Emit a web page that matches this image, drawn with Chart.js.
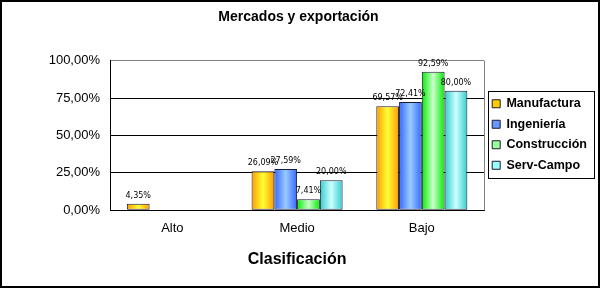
<!DOCTYPE html>
<html>
<head>
<meta charset="utf-8">
<script src="https://cdn.jsdelivr.net/npm/chart.js@4/dist/chart.umd.min.js"></script>
<style>
  html, body { margin: 0; padding: 0; background: #fff; }
  #wrap { width: 600px; height: 288px; }
</style>
</head>
<body>
<div id="wrap"><canvas id="chart" width="600" height="288"></canvas></div>
<script>
// Data
const categories = ["Alto", "Medio", "Bajo"];
const seriesNames = ["Manufactura", "Ingeniería", "Construcción", "Serv-Campo"];
const manufactura = [4.35, 26.09, 69.57];
const ingenieria = [0, 27.59, 72.41];
const construccion = [0, 7.41, 92.59];
const servCampo = [0, 20.00, 80.00];
const yTicks = [0, 25, 50, 75, 100];

// Colours: edge, centre (bars are shaded like cylinders)
const edgeColors = ["#ff9900", "#3366ff", "#00ee00", "#33cccc"];
const centerColors = ["#ffff33", "#99ccff", "#ccffcc", "#ccffff"];
const legendColors = ["#ffcc00", "#6699ff", "#99ff99", "#99ffff"];

const CAT_PCT = 0.73;

function fmt(v) {
    return v.toFixed(2).replace(".", ",") + "%";
}

// Horizontal gradient for each bar, placed from the x scale
function barFill(ctx) {
    const di = ctx.datasetIndex;
    const chart = ctx.chart;
    const xs = chart.scales.x;
    if (ctx.dataIndex === undefined || !xs || !xs.width) return legendColors[di];
    const cw = xs.width / categories.length;
    const bw = cw * CAT_PCT / seriesNames.length;
    const left = xs.getPixelForValue(ctx.dataIndex) - bw * seriesNames.length / 2 + di * bw;
    const g = chart.ctx.createLinearGradient(left, 0, left + bw, 0);
    g.addColorStop(0, edgeColors[di]);
    g.addColorStop(0.5, centerColors[di]);
    g.addColorStop(1, edgeColors[di]);
    return g;
}

const frame = {
    id: "frame",
    afterDraw(chart) {
        const c = chart.ctx;
        const a = chart.chartArea;
        c.save();
        // grey right edge of the plot
        c.strokeStyle = "#808080";
        c.lineWidth = 1;
        c.beginPath();
        c.moveTo(Math.round(a.right) + 0.5, a.top);
        c.lineTo(Math.round(a.right) + 0.5, a.bottom);
        c.stroke();
        // value labels
        c.fillStyle = "#000";
        c.font = "8px 'DejaVu Sans'";
        c.textAlign = "center";
        c.textBaseline = "bottom";
        chart.data.datasets.forEach((ds, di) => {
            chart.getDatasetMeta(di).data.forEach((bar, i) => {
                if (!ds.data[i]) return;
                c.fillText(fmt(ds.data[i]), bar.x, bar.y - 4);
            });
        });
        // legend box
        const hb = chart.legend.legendHitBoxes;
        if (hb && hb.length) {
            const l = Math.min(...hb.map(h => h.left)) - 4;
            const t = Math.min(...hb.map(h => h.top)) - 7;
            const r = Math.max(...hb.map(h => h.left + h.width)) + 7;
            const b = Math.max(...hb.map(h => h.top + h.height)) + 6;
            c.strokeStyle = "#000";
            c.strokeRect(Math.round(l) + 0.5, Math.round(t) + 0.5, Math.round(r - l), Math.round(b - t));
        }
        // outer frame
        c.lineWidth = 2;
        c.strokeStyle = "#000";
        c.strokeRect(1, 1, 598, 286);
        c.restore();
    }
};

const series = [manufactura, ingenieria, construccion, servCampo];

new Chart(document.getElementById("chart"), {
    type: "bar",
    data: {
        labels: categories,
        datasets: series.map((vals, di) => ({
            label: seriesNames[di],
            data: vals,
            backgroundColor: barFill,
            borderColor: "#1a1a33",
            borderWidth: ctx => (ctx.raw ? 1 : 0),
            borderSkipped: false,
            barPercentage: 1,
            categoryPercentage: CAT_PCT
        }))
    },
    options: {
        responsive: false,
        animation: false,
        layout: { padding: { left: 0, right: 3, top: 0, bottom: 19 } },
        plugins: {
            title: {
                display: true,
                text: "Mercados y exportación",
                color: "#000",
                font: { family: "'Liberation Sans', Arial", size: 14, weight: "bold" },
                padding: { top: 9, bottom: 35 }
            },
            legend: {
                position: "right",
                labels: {
                    color: "#000",
                    font: { family: "'Liberation Sans', Arial", size: 12.5, weight: "bold" },
                    boxWidth: 8,
                    boxHeight: 8,
                    padding: 8,
                    generateLabels: chart => seriesNames.map((n, i) => ({
                        text: n,
                        fillStyle: legendColors[i],
                        strokeStyle: "#1a1a33",
                        lineWidth: 1,
                        datasetIndex: i
                    }))
                }
            },
            tooltip: { enabled: false }
        },
        scales: {
            x: {
                grid: { display: false, drawTicks: false },
                border: { color: "#000", width: 1 },
                ticks: {
                    color: "#000",
                    padding: 10,
                    font: { family: "'Liberation Sans', Arial", size: 13 }
                },
                title: {
                    display: true,
                    text: "Clasificación",
                    color: "#000",
                    font: { family: "'Liberation Sans', Arial", size: 16, weight: "bold" },
                    padding: { top: 4, bottom: 0 }
                }
            },
            y: {
                min: 0,
                max: 100,
                afterBuildTicks: s => { s.ticks = yTicks.map(v => ({ value: v })); },
                afterFit: s => { s.width = 110; },
                grid: {
                    drawTicks: false,
                    color: ctx => (ctx.tick && ctx.tick.value === 100 ? "#808080" : "#000")
                },
                border: { color: "#000", width: 1 },
                ticks: {
                    color: "#000",
                    padding: 10,
                    font: { family: "'Liberation Sans', Arial", size: 13 },
                    callback: v => fmt(v)
                }
            }
        }
    },
    plugins: [frame]
});
</script>
</body>
</html>
